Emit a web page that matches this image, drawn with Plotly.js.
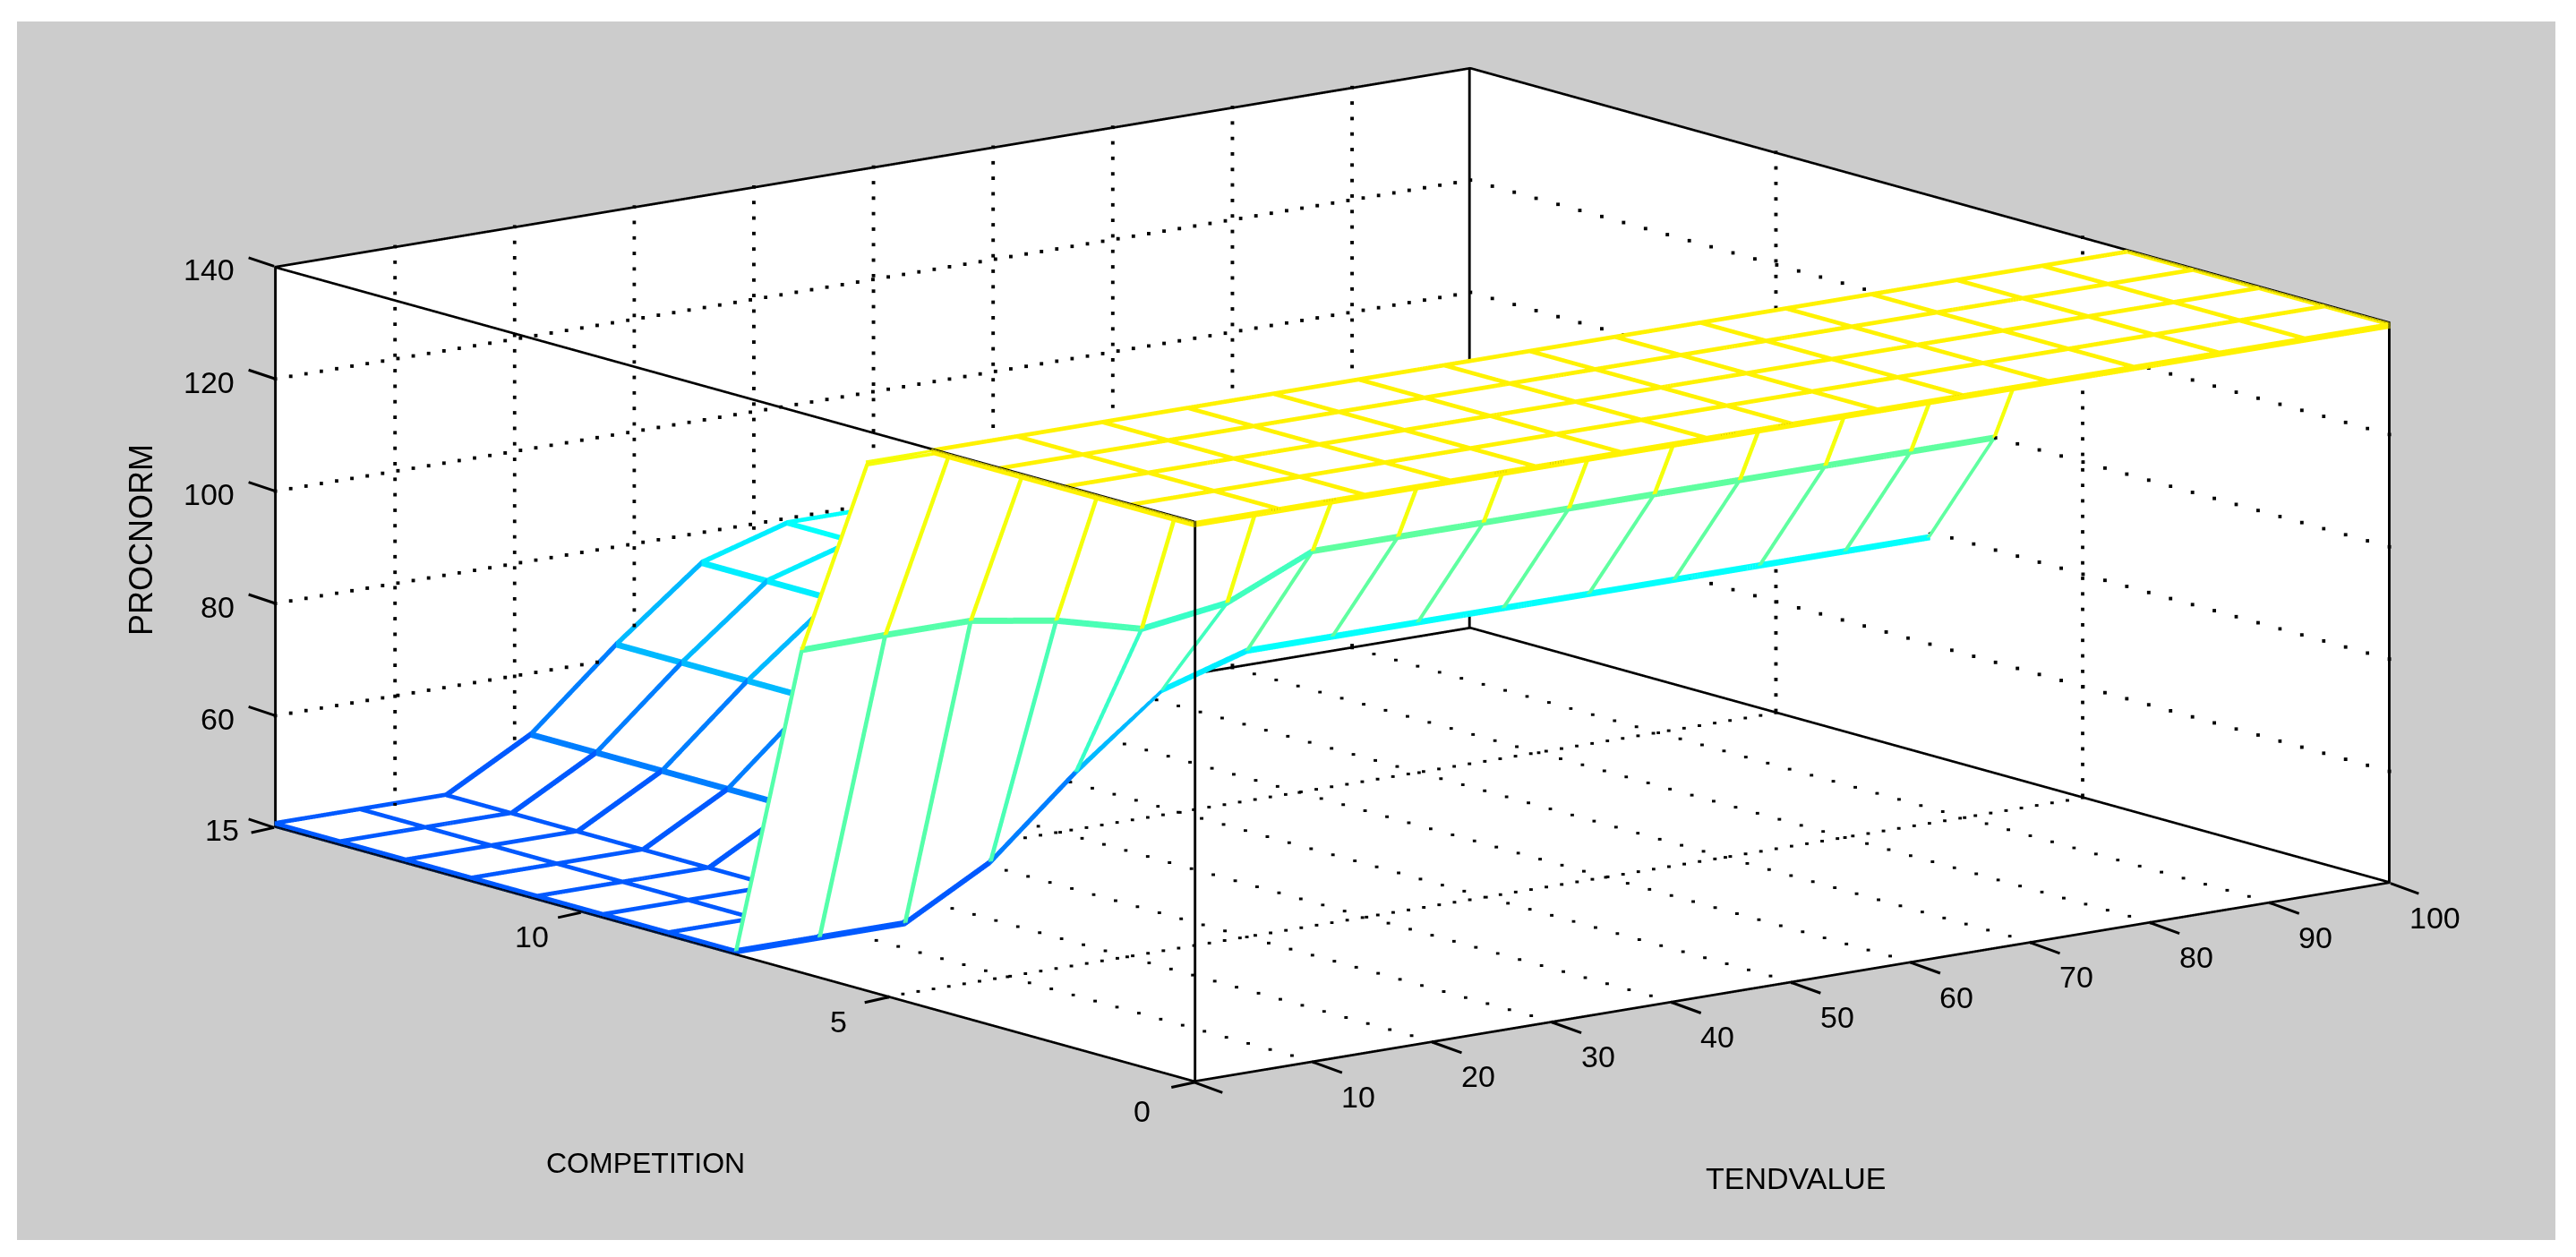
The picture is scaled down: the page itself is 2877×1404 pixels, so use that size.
<!DOCTYPE html>
<html><head><meta charset="utf-8">
<script src="https://cdn.plot.ly/plotly-3.0.1.min.js"></script>
<style>html,body{margin:0;padding:0;background:#fff}#g{width:2877px;height:1404px}</style>
</head><body><div id="g"></div>
<script>
// x: TENDVALUE (15 grid points 0..100), y: COMPETITION (15 grid points 0..15)
const tendvalue = [0,7.142857,14.285714,21.428571,28.571429,35.714286,42.857143,50,57.142857,64.285714,71.428571,78.571429,85.714286,92.857143,100];
const competition = [0,1.071429,2.142857,3.214286,4.285714,5.357143,6.428571,7.5,8.571429,9.642857,10.714286,11.785714,12.857143,13.928571,15];
const rowTop = [139.4,139.4,139.4,139.4,139.4,139.4,139.4,139.4,139.4,139.4,139.4,139.4,139.4,139.4,139.4];
const row134 = [134,134,134,134,134,134,134,134,134,134,134,134,134,134,134];
const row100 = [97.5,97.7,97.7,95.2,91.2,93.3,100,100,100,100,100,100,100,100,100];
const rowLow = [40.6,40.6,40.6,49,62.5,74.5,79,79,79,79,79,79,79,79,79];
const procnorm = [rowTop,rowTop,rowTop,rowTop,rowTop,row134,row100,rowLow,rowLow,rowLow,rowLow,rowLow,rowLow,rowLow,rowLow];
const xTicks = [0,10,20,30,40,50,60,70,80,90,100];
const yTicks = [0,5,10,15];
const zTicks = [40,60,80,100,120,140];
const xLabelVals = [10,20,30,40,50,60,70,80,90,100];
const yLabelVals = [0,5,10,15];
const zLabelVals = [60,80,100,120,140];

const jet = [[0,'rgb(0,0,128)'],[0.125,'rgb(0,0,255)'],[0.375,'rgb(0,255,255)'],[0.625,'rgb(255,255,0)'],[0.875,'rgb(255,0,0)'],[1,'rgb(128,0,0)']];
const cmin=-8.8,cmax=223.7;
const traces=[];
// white faces, pushed slightly away from the viewer
const pushX=0.3,pushY=0.05,pushZ=0.2;
traces.push({type:'surface',x:tendvalue.map(v=>Math.min(v+pushX,100)),y:competition.map(v=>Math.min(v+pushY,15)),
  z:procnorm.map(r=>r.map(v=>v-pushZ)),surfacecolor:procnorm.map(r=>r.map(()=>0)),
  colorscale:[[0,'#ffffff'],[1,'#ffffff']],cmin:0,cmax:1,showscale:false,hoverinfo:'skip',
  lighting:{ambient:1,diffuse:0,specular:0,roughness:1,fresnel:0}});
const cx=v=>Math.min(99.98,Math.max(0.02,v)), cy=v=>Math.min(14.997,Math.max(0.003,v)), cz=v=>Math.min(139.98,Math.max(40.02,v));
// GL lines are hairlines here, so a thick line is a small bundle of parallel passes
function bundle(){return {x:[],y:[],z:[],c:[]};}
function seg(b,p,q,c,sx,sz){b.x.push(cx(p[0]+sx),cx(q[0]+sx),null);b.y.push(cy(p[1]),cy(q[1]),null);b.z.push(cz(p[2]+sz),cz(q[2]+sz),null);b.c.push(c,c,c);}
const N=tendvalue.length;
const flatPass=[-0.48,-0.32,-0.16,0,0.16,0.32,0.48], steepPass=[-0.15,-0.075,0,0.075,0.15];
const rows=bundle(), colsFlat=bundle(), colsSteep=bundle();
for(let j=0;j<N;j++)for(let i=0;i<N;i++){
  const c=procnorm[j][i],p=[tendvalue[i],competition[j],c];
  if(i<N-1){const q=[tendvalue[i+1],competition[j],procnorm[j][i+1]];flatPass.forEach(s=>seg(rows,p,q,c,0,s));}
  if(j<N-1){const q=[tendvalue[i],competition[j+1],procnorm[j+1][i]];
    if(Math.abs(q[2]-p[2])>3)steepPass.forEach(s=>seg(colsSteep,p,q,c,i===0?s+0.15:(i===N-1?s-0.15:s),0));
    else flatPass.forEach(s=>seg(colsFlat,p,q,c,0,s));}
}
[rows,colsFlat,colsSteep].forEach(b=>traces.push({type:'scatter3d',mode:'lines',x:b.x,y:b.y,z:b.z,connectgaps:false,hoverinfo:'skip',showlegend:false,
  line:{width:2,color:b.c,colorscale:jet,cmin:cmin,cmax:cmax,showscale:false}}));
// black box
const bx=[],by=[],bz=[];
function edge(p,q,d){for(let k=0;k<3;k++){bx.push(p[0]+d[0]*k,q[0]+d[0]*k,null);by.push(p[1]+d[1]*k,q[1]+d[1]*k,null);bz.push(p[2]+d[2]*k,q[2]+d[2]*k,null);}}
const X0=0.02,X1=99.98,Y0=0.003,Y1=14.997,Z0=40.02,Z1=139.98;
const stepZd=0.14, stepXd=0.07;
edge([X0,Y1,Z1],[X1,Y1,Z1],[0,0,-stepZd]);
edge([X0,0.03,139.6],[X1,0.03,139.6],[0,0,-stepZd]);
[Y0,Y1].forEach(y=>edge([X0,y,Z0],[X1,y,Z0],[0,0,stepZd]));
[X0,X1].forEach(x=>{edge([x,Y0,Z1],[x,Y1,Z1],[0,0,-stepZd]);edge([x,Y0,Z0],[x,Y1,Z0],[0,0,stepZd]);});
edge([X0,Y0,Z0],[X0,Y0,Z1],[stepXd,0,0]);edge([X0,Y1,Z0],[X0,Y1,Z1],[stepXd,0,0]);
edge([X1,Y0,Z0],[X1,Y0,Z1],[-stepXd,0,0]);edge([X1,Y1,Z0],[X1,Y1,Z1],[-stepXd,0,0]);
traces.push({type:'scatter3d',mode:'lines',x:bx,y:by,z:bz,connectgaps:false,hoverinfo:'skip',showlegend:false,line:{width:2,color:'#000000'}});
// dotted grid on the back walls and the floor; the flat part of the mesh hides the floor dots beneath it
const dx=[],dy=[],dz=[];
function dots(a,b,n){for(let k=0;k<=n;k++){const t=k/n;const x=a[0]+(b[0]-a[0])*t,y=a[1]+(b[1]-a[1])*t,z=a[2]+(b[2]-a[2])*t;
  if(z<=40.5&&y>=7.3&&x<=16)continue;dx.push(x);dy.push(y);dz.push(z);}}
const wallX=99.9,wallY=14.98,floorZ=40.1;
xTicks.slice(1,-1).forEach(v=>{dots([v,0,floorZ],[v,wallY,floorZ],42);dots([v,wallY,40.6],[v,wallY,140],36);});
yTicks.slice(1,-1).forEach(v=>{dots([0,v,floorZ],[wallX,v,floorZ],78);dots([wallX,v,40.6],[wallX,v,140],36);});
zTicks.slice(1,-1).forEach(v=>{dots([0,wallY,v],[wallX,wallY,v],78);dots([wallX,0,v],[wallX,wallY,v],42);});
traces.push({type:'scatter3d',mode:'markers',x:dx,y:dy,z:dz,hoverinfo:'skip',showlegend:false,
  marker:{size:2,color:'#000000',symbol:'square',line:{width:0}}});

const fam='"Liberation Sans",Arial,sans-serif';
const F={family:fam,size:34,color:'#000'};
const sa=[];
const tick=(x,y,z,ax,ay)=>sa.push({x:x,y:y,z:z,text:' ',showarrow:true,arrowhead:0,arrowwidth:3,arrowcolor:'#000',standoff:0,startstandoff:0,ax:ax,ay:ay,font:{size:1}});
xTicks.forEach(v=>tick(v,0,40,33,12));
yTicks.forEach(v=>tick(0,v,40,-27,6));
zTicks.forEach(v=>tick(0,15,v,-30,-10));
xLabelVals.forEach(v=>sa.push({x:v,y:0,z:40,text:String(v),showarrow:false,xanchor:'center',yanchor:'middle',xshift:50,yshift:-38,font:F}));
yLabelVals.forEach(v=>sa.push({x:0,y:v,z:40,text:String(v),showarrow:false,xanchor:'center',yanchor:'middle',xshift:v===15?-58:(v===0?-58:-55),yshift:v===15?-3:(v===0?-32:-27),font:F}));
zLabelVals.forEach(v=>sa.push({x:0,y:15,z:v,text:String(v),showarrow:false,xanchor:'right',yanchor:'middle',xshift:-42,yshift:-4,font:F}));
const ax=(range,tv)=>({range:range,autorange:false,tickmode:'array',tickvals:tv,showticklabels:false,title:{text:''},
  showgrid:false,zeroline:false,showspikes:false,showbackground:true,backgroundcolor:'#ffffff',
  showline:false,ticks:''});
const R=6;
const layout={width:2877,height:1404,margin:{l:0,r:0,t:0,b:0},paper_bgcolor:'#ffffff',showlegend:false,
  shapes:[{type:'rect',xref:'paper',yref:'paper',x0:19/2877,x1:2854/2877,y0:1-1385/1404,y1:1-24/1404,fillcolor:'#cccccc',line:{width:0},layer:'below'}],
  annotations:[
   {xref:'paper',yref:'paper',x:157/2877,y:1-603/1404,xanchor:'center',yanchor:'middle',text:'PROCNORM',textangle:-90,showarrow:false,font:{family:fam,size:36,color:'#000'}},
   {xref:'paper',yref:'paper',x:721/2877,y:1-1299/1404,xanchor:'center',yanchor:'middle',text:'COMPETITION',showarrow:false,font:{family:fam,size:32,color:'#000'}},
   {xref:'paper',yref:'paper',x:2006/2877,y:1-1316/1404,xanchor:'center',yanchor:'middle',text:'TENDVALUE',showarrow:false,font:F}],
  scene:{domain:{x:[99/2877,1],y:[1-1284/1404,1]},bgcolor:'rgba(0,0,0,0)',
    aspectmode:'manual',aspectratio:{x:2.633,y:2.613,z:1.0},
    camera:{projection:{type:'orthographic'},up:{x:0,y:0,z:1},center:{x:0,y:0,z:0},eye:{x:-0.598*R,y:-0.7716*R,z:0.2145*R}},
    xaxis:ax([0,100],xTicks),yaxis:ax([0,15],yTicks),zaxis:ax([40,140],zTicks),annotations:sa}};
Plotly.newPlot('g',traces,layout,{displayModeBar:false});
</script></body></html>
